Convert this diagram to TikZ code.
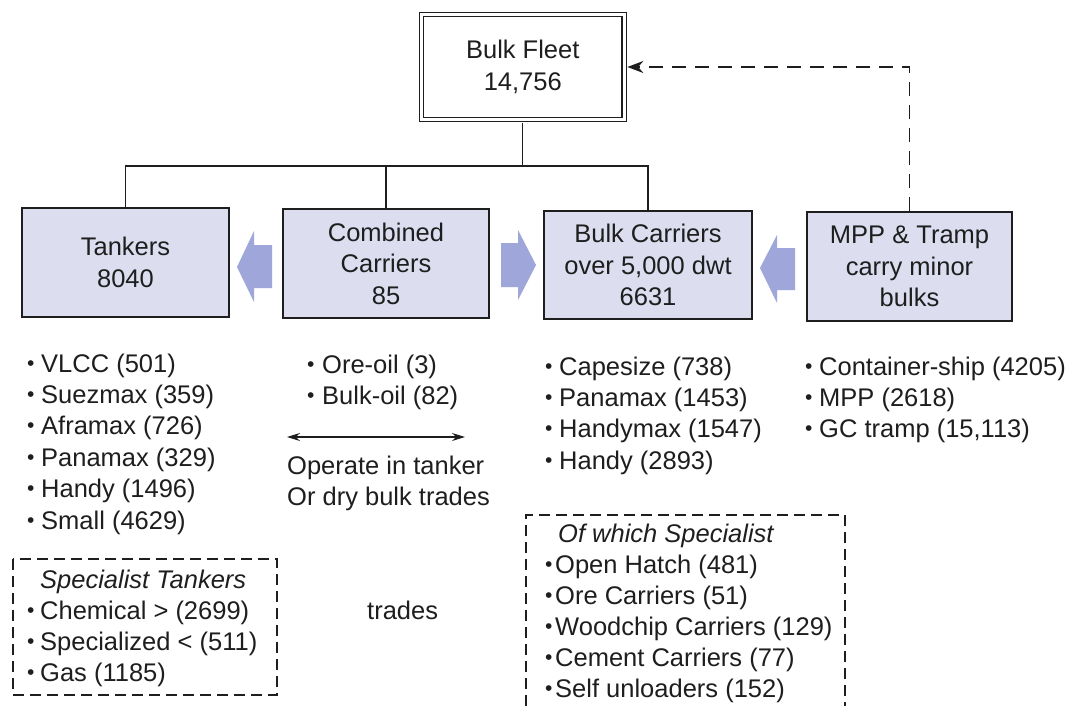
\documentclass[tikz,border=0pt]{standalone}
\usepackage{fontspec}
\setmainfont{Liberation Sans}
\usetikzlibrary{arrows.meta}
\definecolor{boxfill}{HTML}{DCDEF0}
\definecolor{arrfill}{HTML}{9EA6DA}
\definecolor{ink}{HTML}{1E1E1E}
\newcommand{\mybul}[1][12pt]{\makebox[#1][l]{\raisebox{2.0pt}{\fontsize{21}{21}\selectfont •}}}
\newcommand{\txtfont}{\fontsize{25.5}{31.4}\selectfont}
\tikzset{
  lbl/.style={anchor=base west, inner sep=0pt, font=\txtfont, text=ink},
  catbox/.style={draw=ink, line width=1.3pt, fill=boxfill, minimum width=206pt, minimum height=109pt,
                 inner sep=0pt, align=center, font=\txtfont, text=ink},
  conn/.style={draw=ink, line width=1.1pt},
  dashconn/.style={draw=ink, line width=1.8pt, dash pattern=on 14pt off 9pt, -{Stealth[length=16pt,width=12pt]}},
  dbox/.style={draw=ink, line width=1.4pt, dash pattern=on 11pt off 6pt},
  blockarrow/.style={fill=arrfill},
  twohead/.style={draw=ink, line width=1.3pt, {Stealth[length=13pt,width=8pt]}-{Stealth[length=13pt,width=8pt]}}
}
\begin{document}
\begin{tikzpicture}[x=1pt,y=-1pt]
\useasboundingbox (0,0) rectangle (1075,706);
\fill[white] (0,0) rectangle (1075,706);

% top node
\node[draw=ink, line width=1.1pt, double=white, double distance=3pt, minimum width=202.5pt, minimum height=105pt,
      inner sep=0pt, align=center, font=\txtfont, text=ink] (bf) at (522.75,67) {Bulk Fleet\\14,756};

% category boxes
\node[catbox, minimum width=207pt] (tk) at (125.5,262.5) {Tankers\\8040};
\node[catbox] (cc) at (386,263.5) {Combined\\Carriers\\85};
\node[catbox, minimum width=208pt, minimum height=108pt] (bc) at (648,265) {Bulk Carriers\\over 5,000 dwt\\6631};
\node[catbox, minimum width=205pt] (mpp) at (909.5,266.5) {MPP \& Tramp\\carry minor\\bulks};

% tree connectors
\coordinate (bj) at (522.75,166);
\draw[conn] ([yshift=-2.6pt]bf.south) -- (bj);
\draw[conn] (tk.north) |- (bj) -| (bc.north);
\draw[conn] (cc.north) -- (cc.north |- bj);

% dashed feedback arrow
\draw[dashconn] (mpp.north) |- ([xshift=2.8pt]bf.east);

% block arrows
\fill[blockarrow] (237,267) -- (254,231) -- (254,245) -- (272,245) -- (272,288) -- (254,288) -- (254,302) -- cycle;
\fill[blockarrow] (536,265) -- (518,230) -- (518,243) -- (501,243) -- (501,287) -- (518,287) -- (518,300) -- cycle;
\fill[blockarrow] (760,268) -- (777,235) -- (777,248) -- (795,248) -- (795,290) -- (777,290) -- (777,303) -- cycle;

% tanker list
\foreach \t [count=\i] in {VLCC (501), Suezmax (359), Aframax (726), Panamax (329), Handy (1496), Small (4629)}
  \node[lbl] (tl\i) at (27,{372+31.4*(\i-1)}) {\mybul[14pt]\t};

% combined list
\foreach \t [count=\i] in {Ore-oil (3), Bulk-oil (82)}
  \node[lbl] (cl\i) at (307,{373+31.4*(\i-1)}) {\mybul[15pt]\t};
\coordinate (al) at (287,437);
\coordinate (ar) at (465,437);
\draw[twohead] (al) -- (ar);
\node[lbl] (op1) at (287,474) {Operate in tanker};
\node[lbl] (op2) at (287,505) {Or dry bulk trades};

% bulk list
\foreach \t [count=\i] in {Capesize (738), Panamax (1453), Handymax (1547), Handy (2893)}
  \node[lbl] (bl\i) at (545,{375+31.4*(\i-1)}) {\mybul[14pt]\t};

% MPP list
\foreach \t [count=\i] in {Container-ship (4205), MPP (2618), {GC tramp (15,113)}}
  \node[lbl] (ml\i) at (805,{375+31.4*(\i-1)}) {\mybul[14pt]\t};

% specialist tankers box
\draw[dbox] (13,559) rectangle (277,695);
\node[lbl, font=\txtfont\itshape] (st0) at (40,588) {Specialist Tankers};
\foreach \t [count=\i] in {Chemical > (2699), Specialized < (511), Gas (1185)}
  \node[lbl] (st\i) at (27,{619+31*(\i-1)}) {\mybul[13pt]\t};

\node[lbl] (trd) at (367,619) {trades};

% of which specialist box
\draw[dbox] (526,706) -- (526,515) -- (845,515) -- (845,706);
\node[lbl, font=\txtfont\itshape] (os0) at (558,542) {Of which Specialist};
\foreach \t [count=\i] in {Open Hatch (481), Ore Carriers (51), Woodchip Carriers (129), Cement Carriers (77), Self unloaders (152)}
  \node[lbl] (os\i) at (545,{573+31*(\i-1)}) {\mybul[10pt]\t};
\end{tikzpicture}
\end{document}
